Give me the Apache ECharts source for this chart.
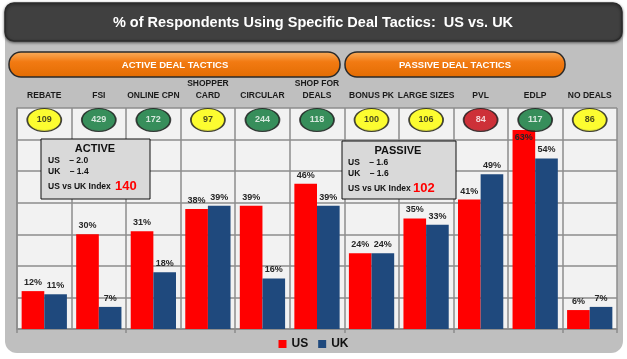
<!DOCTYPE html>
<html><head><meta charset="utf-8">
<script src="https://cdn.jsdelivr.net/npm/echarts@6/dist/echarts.min.js"></script>
<style>html,body{margin:0;padding:0;background:#fff}#c{width:627px;height:359px}</style>
</head><body><div id="c"></div>
<script>
const categories = ['REBATE','FSI','ONLINE CPN','SHOPPER\nCARD','CIRCULAR','SHOP FOR\nDEALS','BONUS PK','LARGE SIZES','PVL','EDLP','NO DEALS'];
const usValues = [12,30,31,38,39,46,24,35,41,63,6];
const ukValues = [11,7,18,39,16,39,24,33,49,54,7];
const indexValues = [109,429,172,97,244,118,100,106,84,117,86];
const indexTiers = ['yellow','green','green','yellow','green','green','yellow','yellow','red','green','yellow'];
const yTicks = {min:0, max:70, interval:10};

const tierStyle = {
  yellow:{fill:'#FFFF00', text:'#1a1a1a'},
  green:{fill:'#087535', text:'#ffffff'},
  red:{fill:'#C4000A', text:'#ffffff'}
};
const F = "'Liberation Sans',Arial,sans-serif";
const chart = echarts.init(document.getElementById('c'));
const lbl = {show:true, position:'top', distance:4, formatter:'{c}%', fontFamily:F, fontSize:9, fontWeight:'bold', color:'#262626'};
const btnFill = () => new echarts.graphic.LinearGradient(0,0,0,1,[{offset:0,color:'#FAB060'},{offset:0.4,color:'#F27A12'},{offset:1,color:'#E26C02'}]);
chart.setOption({
  animation:false,
  backgroundColor:'#ffffff',
  graphic:[
    {type:'rect', z:-10, shape:{x:5,y:12,width:618,height:341,r:12}, style:{fill:'#BFBFBF'}},
    {type:'rect', z:-5, shape:{x:5,y:3,width:617,height:38,r:9}, style:{fill:'#404040', stroke:'#2b2b2b', lineWidth:1.5, shadowBlur:3, shadowColor:'rgba(0,0,0,0.5)', shadowOffsetY:1}},
    {type:'text', z:-4, style:{x:313,y:23,text:'% of Respondents Using Specific Deal Tactics:  US vs. UK', fill:'#ffffff', font:"bold 14.5px "+F, align:'center', verticalAlign:'middle'}},
    {type:'rect', z:-5, shape:{x:9,y:52,width:331,height:25,r:12}, style:{fill:btnFill(), stroke:'#2a2a2a', lineWidth:1.5}},
    {type:'text', z:-4, style:{x:175,y:65,text:'ACTIVE DEAL TACTICS', fill:'#ffffff', font:"bold 9.5px "+F, align:'center', verticalAlign:'middle'}},
    {type:'rect', z:-5, shape:{x:345,y:52,width:220,height:25,r:12}, style:{fill:btnFill(), stroke:'#2a2a2a', lineWidth:1.5}},
    {type:'text', z:-4, style:{x:455,y:65,text:'PASSIVE DEAL TACTICS', fill:'#ffffff', font:"bold 9.5px "+F, align:'center', verticalAlign:'middle'}},
    // ACTIVE box
    {type:'rect', z:100, shape:{x:41,y:139,width:109,height:60}, style:{fill:'#D9D9D9', stroke:'#111', lineWidth:1}},
    {type:'text', z:101, style:{x:95,y:149,text:'ACTIVE', fill:'#111', font:"bold 11px "+F, align:'center', verticalAlign:'middle'}},
    {type:'text', z:101, style:{x:48,y:161,text:'US    – 2.0', fill:'#111', font:"bold 8.5px "+F, verticalAlign:'middle'}},
    {type:'text', z:101, style:{x:48,y:172,text:'UK    – 1.4', fill:'#111', font:"bold 8.5px "+F, verticalAlign:'middle'}},
    {type:'text', z:101, style:{x:48,y:187,text:'US vs UK Index', fill:'#111', font:"bold 8.5px "+F, verticalAlign:'middle'}},
    {type:'text', z:101, style:{x:115,y:186,text:'140', fill:'#FF0000', font:"bold 13px "+F, verticalAlign:'middle'}},
    // PASSIVE box
    {type:'rect', z:100, shape:{x:342,y:141,width:114,height:58}, style:{fill:'#D9D9D9', stroke:'#111', lineWidth:1}},
    {type:'text', z:101, style:{x:398,y:151,text:'PASSIVE', fill:'#111', font:"bold 11px "+F, align:'center', verticalAlign:'middle'}},
    {type:'text', z:101, style:{x:348,y:163,text:'US    – 1.6', fill:'#111', font:"bold 8.5px "+F, verticalAlign:'middle'}},
    {type:'text', z:101, style:{x:348,y:174,text:'UK    – 1.6', fill:'#111', font:"bold 8.5px "+F, verticalAlign:'middle'}},
    {type:'text', z:101, style:{x:348,y:189,text:'US vs UK Index', fill:'#111', font:"bold 8.5px "+F, verticalAlign:'middle'}},
    {type:'text', z:101, style:{x:413,y:188,text:'102', fill:'#FF0000', font:"bold 13px "+F, verticalAlign:'middle'}}
  ],
  grid:{left:17, right:10, top:108, bottom:30, show:true, backgroundColor:'#F2F2F2', borderWidth:0},
  legend:{data:['US','UK'], top:333, left:'center', icon:'rect', itemWidth:8, itemHeight:8, itemGap:10,
    textStyle:{fontFamily:F, fontSize:12, fontWeight:'bold', color:'#111'}},
  xAxis:[
    {type:'category', data:categories, position:'bottom',
      axisLine:{lineStyle:{color:'#8C8C8C', width:1.5}},
      axisTick:{show:true, length:4, lineStyle:{color:'#8C8C8C', width:1.5}},
      axisLabel:{show:false},
      splitLine:{show:true, interval:0, lineStyle:{color:'#8C8C8C', width:1.5}}},
    {type:'category', data:categories, position:'top',
      axisLine:{show:false}, axisTick:{show:false},
      axisLabel:{interval:0, margin:6, fontFamily:F, fontSize:8.5, fontWeight:'bold', color:'#1a1a1a', lineHeight:12}}
  ],
  yAxis:{type:'value', min:yTicks.min, max:yTicks.max, interval:yTicks.interval,
    axisLine:{show:true, lineStyle:{color:'#8C8C8C', width:1.5}}, axisTick:{show:false}, axisLabel:{show:false},
    splitLine:{lineStyle:{color:'#8C8C8C', width:1.5}}},
  series:[
    {name:'US', type:'bar', data:usValues.map((v,i)=> i===9 ? {value:v, label:{position:'insideTop', distance:3}} : v),
      itemStyle:{color:'#FF0000'}, barGap:'0%', barCategoryGap:'17%', label:lbl, z:3},
    {name:'UK', type:'bar', data:ukValues, itemStyle:{color:'#1F497D'}, barGap:'0%', barCategoryGap:'17%', label:lbl, z:3},
    {name:'Index', type:'scatter', z:5, symbol:'circle', symbolSize:[34,23],
      data:indexValues.map((v,i)=>({value:[i,66.2],
        itemStyle:{color:new echarts.graphic.RadialGradient(0.5,0.4,0.65,[{offset:0,color:tierStyle[indexTiers[i]].fill},{offset:0.75,color:tierStyle[indexTiers[i]].fill},{offset:1,color:'#2a2a2a'}]), borderColor:'#1a1a1a', borderWidth:1.5},
        label:{color:tierStyle[indexTiers[i]].text}})),
      label:{show:true, position:'inside', formatter:p=>String(indexValues[p.dataIndex]), fontFamily:F, fontSize:9, fontWeight:'bold'}}
  ]
});
</script></body></html>
